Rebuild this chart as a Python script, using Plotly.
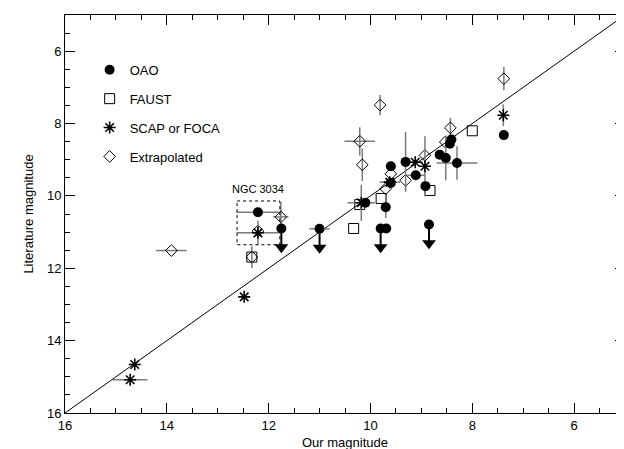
import plotly.graph_objects as go

# ---------------- data ----------------
# OAO (filled circles); ul = 1 marks an upper limit (arrow down)
oao_x  = [12.21, 11.75, 11.00, 10.10, 9.70, 9.80, 9.69, 8.85, 9.60, 9.31, 9.11, 8.92, 9.60, 8.64, 8.52, 8.30, 8.41, 8.44, 7.38]
oao_y  = [10.45, 10.90, 10.91, 10.19, 10.31, 10.90, 10.90, 10.79, 9.18, 9.06, 9.43, 9.73, 9.64, 8.86, 8.95, 9.09, 8.44, 8.56, 8.32]
oao_ex = [0.42, 0.00, 0.20, 0.00, 0.00, 0.00, 0.00, 0.00, 0.00, 0.00, 0.17, 0.00, 0.00, 0.00, 0.00, 0.40, 0.00, 0.00, 0.00]
oao_ey = [0.00, 0.00, 0.00, 0.00, 0.30, 0.00, 0.00, 0.00, 0.00, 0.83, 0.00, 0.00, 0.00, 0.00, 0.62, 0.46, 0.00, 0.00, 0.00]
oao_ul = [0, 1, 1, 0, 0, 1, 0, 1, 0, 0, 0, 0, 0, 0, 0, 0, 0, 0, 0]

# FAUST (open squares)
faust_x  = [12.33, 10.21, 9.79, 10.33, 8.00, 8.83]
faust_y  = [11.69, 10.24, 10.07, 10.90, 8.20, 9.85]
faust_ex = [0.00, 0.00, 0.00, 0.00, 0.00, 0.00]
faust_ey = [0.30, 0.00, 0.00, 0.00, 0.00, 0.00]

# SCAP or FOCA (asterisks)
scap_x  = [12.21, 10.18, 9.12, 8.93, 7.39, 12.48, 14.63, 14.72, 9.62]
scap_y  = [11.02, 10.19, 9.07, 9.18, 7.77, 12.79, 14.66, 15.08, 9.62]
scap_ex = [0.42, 0.27, 0.15, 0.00, 0.00, 0.00, 0.00, 0.34, 0.20]
scap_ey = [0.33, 0.50, 0.00, 0.83, 0.30, 0.00, 0.00, 0.00, 0.00]

# Extrapolated (open diamonds)
ext_x  = [11.76, 12.21, 12.33, 9.81, 10.21, 10.16, 8.93, 9.31, 9.60, 9.70, 8.43, 8.53, 7.38, 13.91]
ext_y  = [10.58, 10.97, 11.69, 7.49, 8.49, 9.14, 8.88, 9.57, 9.39, 9.80, 8.12, 8.51, 6.76, 11.51]
ext_ex = [0.15, 0.00, 0.00, 0.00, 0.30, 0.00, 0.00, 0.00, 0.00, 0.00, 0.00, 0.00, 0.00, 0.30]
ext_ey = [0.41, 0.00, 0.00, 0.28, 0.39, 0.45, 0.00, 0.00, 0.00, 0.00, 0.28, 0.00, 0.32, 0.00]

# one-to-one line and NGC 3034 box
diag = [16, 5]
ngc_box_x = [12.62, 11.78]
ngc_box_y = [10.14, 11.35]
ngc_label = "NGC 3034"

ARROW_LEN = 0.62   # length of upper-limit arrows (magnitudes)

ERR_COL = "#7a7a7a"
FONT = "Liberation Sans, Arial, Helvetica, sans-serif"

def err(arr):
    return dict(type="data", array=arr, visible=True, color=ERR_COL, thickness=1.5, width=0)

fig = go.Figure()

# diagonal
fig.add_trace(go.Scatter(x=diag, y=diag, mode="lines", line=dict(color="black", width=1),
                         showlegend=False, hoverinfo="skip"))

# upper-limit arrows for OAO
ax_, ay_, hx, hy = [], [], [], []
for xv, yv, u in zip(oao_x, oao_y, oao_ul):
    if u:
        ax_ += [xv, xv, None]
        ay_ += [yv, yv + ARROW_LEN - 0.1, None]
        hx.append(xv)
        hy.append(yv + ARROW_LEN - 0.1)
fig.add_trace(go.Scatter(x=ax_, y=ay_, mode="lines", line=dict(color="black", width=2),
                         showlegend=False, hoverinfo="skip"))
fig.add_trace(go.Scatter(x=hx, y=hy, mode="markers",
                         marker=dict(symbol="triangle-down", size=12, color="black"),
                         showlegend=False, hoverinfo="skip"))

# Extrapolated
fig.add_trace(go.Scatter(x=ext_x, y=ext_y, mode="markers", name="Extrapolated",
                         error_x=err(ext_ex), error_y=err(ext_ey),
                         marker=dict(symbol="diamond-open", size=9, color="black", line=dict(width=1)),
                         legendgroup="d", legendrank=4))
# FAUST
fig.add_trace(go.Scatter(x=faust_x, y=faust_y, mode="markers", name="FAUST",
                         error_x=err(faust_ex), error_y=err(faust_ey),
                         marker=dict(symbol="square-open", size=10, color="black", line=dict(width=1)),
                         legendgroup="b", legendrank=2))
# SCAP
fig.add_trace(go.Scatter(x=scap_x, y=scap_y, mode="markers", name="SCAP or FOCA",
                         error_x=err(scap_ex), error_y=err(scap_ey),
                         marker=dict(symbol="asterisk-open", size=10, color="black", line=dict(width=1.6, color="black")),
                         legendgroup="c", legendrank=3))
# OAO
fig.add_trace(go.Scatter(x=oao_x, y=oao_y, mode="markers", name="OAO",
                         error_x=err(oao_ex), error_y=err(oao_ey),
                         marker=dict(symbol="circle", size=10, color="black"),
                         legendgroup="a", legendrank=1))

# NGC 3034 box
fig.add_shape(type="rect", xref="x", yref="y", x0=ngc_box_x[0], x1=ngc_box_x[1],
              y0=ngc_box_y[0], y1=ngc_box_y[1], line=dict(color="black", width=1, dash="dot"))
fig.add_annotation(x=(ngc_box_x[0] + ngc_box_x[1]) / 2, y=ngc_box_y[0], yshift=4, yanchor="bottom",
                   text=ngc_label, showarrow=False, font=dict(family=FONT, size=11, color="black"))

axis_common = dict(showgrid=False, zeroline=False, showline=True, linecolor="black", linewidth=1,
                   mirror="ticks", ticks="inside", ticklen=10, tickwidth=1, tickcolor="black",
                   tick0=0, dtick=2, automargin=False,
                   minor=dict(dtick=0.5, ticks="inside", ticklen=5, tickwidth=1, tickcolor="black"),
                   tickfont=dict(family=FONT, size=13, color="black"))

fig.update_xaxes(range=[16, 5], title=dict(text="Our magnitude", font=dict(family=FONT, size=13), standoff=6),
                 **axis_common)
fig.update_yaxes(range=[16, 5], title=dict(text="Literature magnitude", font=dict(family=FONT, size=13), standoff=10),
                 **axis_common)

fig.update_layout(width=624, height=449, margin=dict(l=57, r=7, t=7, b=44, autoexpand=False),
                  plot_bgcolor="white", paper_bgcolor="white",
                  font=dict(family=FONT, size=13, color="black"),
                  showlegend=True,
                  legend=dict(x=0.044, y=0.9, xanchor="left", yanchor="top", bgcolor="rgba(0,0,0,0)",
                              borderwidth=0, tracegroupgap=9, itemwidth=30,
                              font=dict(family=FONT, size=13, color="black")))

fig.write_html("out.html")
